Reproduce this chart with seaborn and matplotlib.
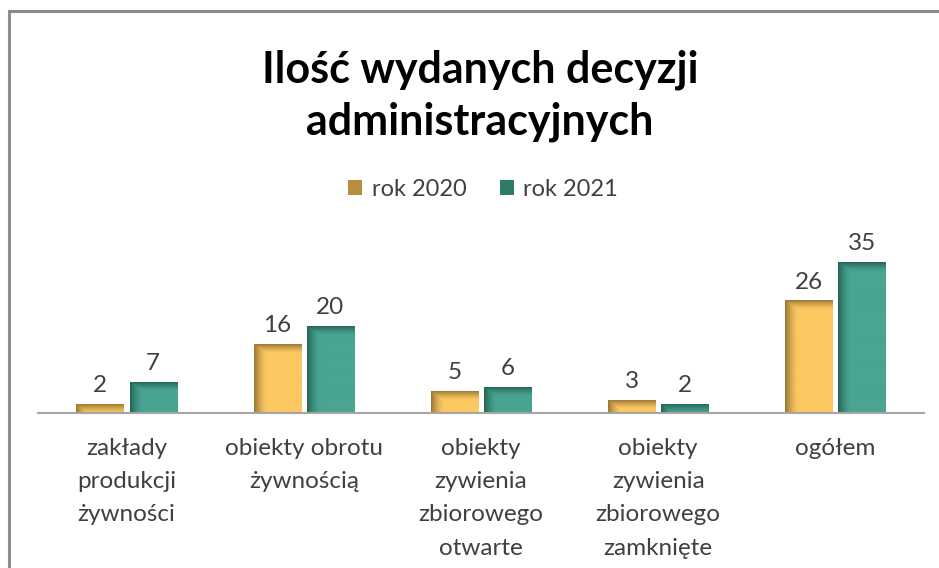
import numpy as np
import pandas as pd
import matplotlib
matplotlib.use("Agg")
import matplotlib.pyplot as plt
import matplotlib.patches as mpatches
from matplotlib.colors import to_rgb
import seaborn as sns

categories = ["zakłady\nprodukcji\nżywności", "obiekty obrotu\nżywnością",
              "obiekty\nzywienia\nzbiorowego\notwarte",
              "obiekty\nzywienia\nzbiorowego\nzamknięte", "ogółem"]
series = ["rok 2020", "rok 2021"]
values_2020 = [2, 16, 5, 3, 26]
values_2021 = [7, 20, 6, 2, 35]

base_cols = {"rok 2020": "#FCC862", "rok 2021": "#49A592"}
dark_cols = {"rok 2020": "#8A6A2C", "rok 2021": "#1F5A4D"}
legend_cols = {"rok 2020": "#B68E3E", "rok 2021": "#2F7A69"}

df = pd.DataFrame({
    "kategoria": categories * 2,
    "rok": [series[0]] * 5 + [series[1]] * 5,
    "ilosc": values_2020 + values_2021,
})

sns.set_style("white")
plt.rcParams["font.family"] = ["Lato", "DejaVu Sans"]
txt_col = "#404040"

W, H = 939, 568
fig = plt.figure(figsize=(W / 100, H / 100), dpi=100)
ax = fig.add_axes([38 / W, (H - 413) / H, 886 / W, 172.4 / H])

sns.barplot(data=df, x="kategoria", y="ilosc", hue="rok", palette=base_cols,
            width=0.6, gap=0.11, ax=ax, legend=False, saturation=1)

# gradient shading like the excel bars (dark left edge + dark top)
px_per_unit = 172.4 / 40
for cont, name in zip(ax.containers, series):
    base = np.array(to_rgb(base_cols[name]))
    dark = np.array(to_rgb(dark_cols[name]))
    vals = values_2020 if name == series[0] else values_2021
    for bar, v in zip(cont.patches, vals):
        x0, w, h = bar.get_x(), bar.get_width(), bar.get_height()
        nx, ny = 60, 200
        xs = np.linspace(0, 1, nx)
        hx = np.clip(1 - xs / 0.28, 0, 1) ** 1.6
        hpx = max(h * px_per_unit, 1)
        ys = np.linspace(0, hpx, ny)
        vy = np.clip(1 - (hpx - ys) / 9.0, 0, 1) ** 1.4
        f = np.maximum(hx[None, :], vy[:, None]) * 0.85
        img = base[None, None, :] * (1 - f[..., None]) + dark[None, None, :] * f[..., None]
        ax.imshow(img, extent=[x0, x0 + w, 0, h], origin="lower", aspect="auto",
                  zorder=bar.get_zorder() + 0.1, interpolation="bilinear")
        ax.annotate(str(v), (x0 + w / 2, h), xytext=(0, 6), textcoords="offset points",
                    ha="center", va="bottom", fontsize=17.5, color=txt_col)

ax.set_xlim(-0.5, 4.5)
ax.set_ylim(0, 40)
ax.set_xlabel("")
ax.set_ylabel("")
ax.set_yticks([])
for s in ["top", "right", "left"]:
    ax.spines[s].set_visible(False)
ax.spines["bottom"].set_color("#A6A6A6")
ax.spines["bottom"].set_linewidth(1.5)
ax.spines["bottom"].set_zorder(5)
ax.tick_params(axis="x", length=0, pad=18, labelsize=17.5, labelcolor=txt_col)
for lab in ax.get_xticklabels():
    lab.set_linespacing(1.72)

fig.text(480 / W, 1 - 96 / H, "Ilość wydanych decyzji\nadministracyjnych",
         ha="center", va="center", fontsize=31, fontweight="bold",
         color="black", linespacing=1.36)

handles = [mpatches.Patch(facecolor=legend_cols[s], edgecolor="none") for s in series]
fig.legend(handles, series, loc="center", bbox_to_anchor=(483 / W, 1 - 189 / H),
           ncol=2, frameon=False, fontsize=17, handlelength=0.6, handleheight=0.6,
           handletextpad=0.4, columnspacing=1.4, labelcolor=txt_col)

border = mpatches.Rectangle((9 / W, -0.2), 2, 1.2 - 11 / H, transform=fig.transFigure,
                            fill=False, edgecolor="#8C8C8C", linewidth=2.2)
fig.patches.append(border)

fig.savefig("out.png", dpi=100)
